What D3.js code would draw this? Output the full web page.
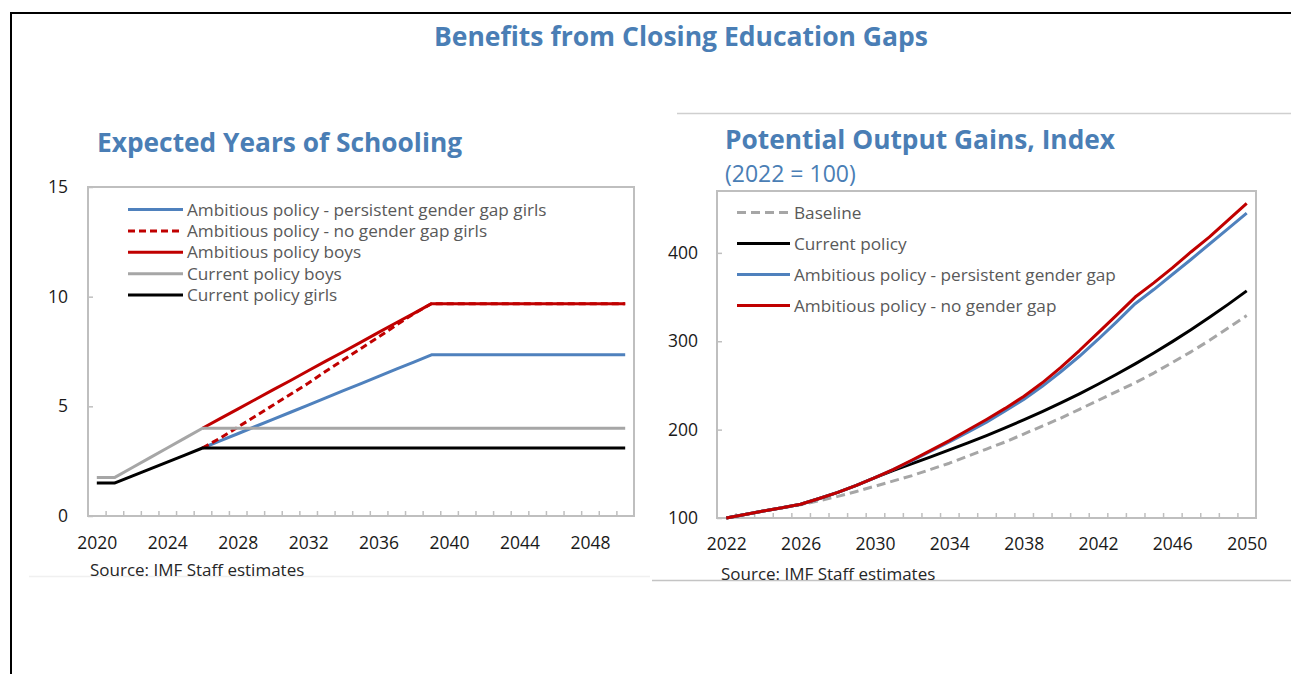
<!DOCTYPE html>
<html>
<head>
<meta charset="utf-8">
<script src="https://cdn.jsdelivr.net/npm/d3@7"></script>
<style>
body { margin: 0; background: #fff; }
text { font-family: "Open Sans", sans-serif; }
</style>
</head>
<body>
<div id="chart"></div>
<script>
// Left panel: expected years of schooling, 2020-2050
var schoolYears = d3.range(2020, 2051);
var schoolTicks = [2020, 2024, 2028, 2032, 2036, 2040, 2044, 2048];
var ambitiousGapGirls = [null, null, null, null, null, null, 3.1, 3.43, 3.75, 4.08, 4.41, 4.73, 5.06, 5.39, 5.72, 6.04, 6.37, 6.7, 7.02, 7.35,
	7.35, 7.35, 7.35, 7.35, 7.35, 7.35, 7.35, 7.35, 7.35, 7.35, 7.35];
var ambitiousNoGapGirls = [null, null, null, null, null, null, 3.1, 3.55, 4.05, 4.55, 5.05, 5.55, 6.05, 6.6, 7.12, 7.64, 8.16, 8.7, 9.22, 9.68,
	9.68, 9.68, 9.68, 9.68, 9.68, 9.68, 9.68, 9.68, 9.68, 9.68, 9.68];
var ambitiousBoys = [null, null, null, null, null, null, 4.0, 4.44, 4.87, 5.31, 5.75, 6.18, 6.62, 7.06, 7.49, 7.93, 8.37, 8.81, 9.24, 9.68,
	9.68, 9.68, 9.68, 9.68, 9.68, 9.68, 9.68, 9.68, 9.68, 9.68, 9.68];
var currentBoys = [1.75, 1.75, 2.2, 2.65, 3.1, 3.55, 4.0, 4.0, 4.0, 4.0, 4.0, 4.0, 4.0, 4.0, 4.0, 4.0, 4.0, 4.0, 4.0, 4.0,
	4.0, 4.0, 4.0, 4.0, 4.0, 4.0, 4.0, 4.0, 4.0, 4.0, 4.0];
var currentGirls = [1.5, 1.5, 1.82, 2.14, 2.46, 2.78, 3.1, 3.1, 3.1, 3.1, 3.1, 3.1, 3.1, 3.1, 3.1, 3.1, 3.1, 3.1, 3.1, 3.1,
	3.1, 3.1, 3.1, 3.1, 3.1, 3.1, 3.1, 3.1, 3.1, 3.1, 3.1];
var schoolYTicks = [0, 5, 10, 15];

// Right panel: potential output index (2022 = 100)
var outputYears = d3.range(2022, 2051);
var outputTicks = [2022, 2026, 2030, 2034, 2038, 2042, 2046, 2050];
var baseline = [100, 104, 108, 111.5, 115, 119.5, 124.5, 130, 136, 142, 148, 155, 162, 170, 178, 186, 195, 204, 213, 223,
	233, 243, 253, 264, 276, 288, 301, 315, 329];
var currentPolicy = [100, 104, 108, 111.5, 115.5, 122, 129, 137, 145.6, 154, 161.6, 169.2, 177, 185, 193.3, 202, 211, 220.4, 230.2, 240.5,
	251.3, 262.6, 274.4, 286.7, 299.6, 313.1, 327.1, 341.7, 357];
var ambitiousGap = [100, 104, 108, 111.5, 115.5, 122, 129, 137, 145.6, 155, 165, 175.5, 186, 197, 208.5, 221, 234, 249, 265.5, 283,
	302, 322, 342.5, 358.5, 375.5, 392.5, 410, 427.5, 445];
var ambitiousNoGap = [100, 104, 108, 111.5, 115.5, 122, 129, 137, 145.6, 155, 165.6, 176.5, 187.5, 199.5, 211.5, 224, 237.5, 253, 270.5, 289.5,
	309.5, 329.5, 350, 366, 383, 401, 418, 437, 456];
var outputYTicks = [100, 200, 300, 400];

const titleBlue = '#4A7EB5';
const lineBlue = '#4F81BD';
const red = '#C00000';
const grey = '#A6A6A6';
const boxGrey = '#BFBFBF';
const legendText = '#595959';

const svg = d3.select('#chart').append('svg')
	.attr('width', 1291)
	.attr('height', 674);

// outer frame (top and left only)
svg.append('path')
	.attr('d', 'M11,674 V13 H1291')
	.attr('fill', 'none')
	.attr('stroke', '#000')
	.attr('stroke-width', 2);

svg.append('text')
	.attr('x', 681)
	.attr('y', 46)
	.attr('text-anchor', 'middle')
	.attr('font-weight', 'bold')
	.attr('font-size', 26.5)
	.attr('fill', titleBlue)
	.text('Benefits from Closing Education Gaps');

// faint panel separators
svg.append('line').attr('x1', 677).attr('x2', 1291).attr('y1', 113.5).attr('y2', 113.5)
	.attr('stroke', '#cfcfcf').attr('stroke-width', 1.5);
svg.append('line').attr('x1', 29).attr('x2', 650).attr('y1', 576.5).attr('y2', 576.5)
	.attr('stroke', '#f0f0f0').attr('stroke-width', 1.5);
svg.append('line').attr('x1', 652).attr('x2', 1291).attr('y1', 580.5).attr('y2', 580.5)
	.attr('stroke', '#c4c4c4').attr('stroke-width', 1.5);

function drawPanel(p)
{
	var g = svg.append('g');
	var x = d3.scaleLinear().domain([p.years[0] - 0.5, p.years[p.years.length - 1] + 0.5]).range([p.left, p.right]);
	var y = d3.scaleLinear().domain(p.yDomain).range([p.bottom, p.top]);

	g.append('rect')
		.attr('x', p.left).attr('y', p.top)
		.attr('width', p.right - p.left).attr('height', p.bottom - p.top)
		.attr('fill', 'none').attr('stroke', boxGrey).attr('stroke-width', 2);

	// minor ticks between categories, pointing inward
	var minor = g.append('g')
		.attr('transform', 'translate(0,' + p.bottom + ')')
		.call(d3.axisBottom(x).tickValues(p.years.slice(0, -1).map(d => d + 0.5)).tickSize(-5).tickFormat(''));
	minor.select('.domain').remove();
	minor.selectAll('line').attr('stroke', boxGrey).attr('stroke-width', 1.5);

	var xAxis = g.append('g')
		.attr('transform', 'translate(0,' + p.bottom + ')')
		.call(d3.axisBottom(x).tickValues(p.xTicks).tickSize(0).tickPadding(p.xPad).tickFormat(d3.format('d')));
	xAxis.select('.domain').remove();
	xAxis.selectAll('text').attr('font-size', 17.5).attr('fill', '#1a1a1a').style('font-family', '"Open Sans", sans-serif');

	var yAxis = g.append('g')
		.attr('transform', 'translate(' + p.left + ',0)')
		.call(d3.axisLeft(y).tickValues(p.yTicks).tickSize(-5).tickPadding(p.yPad));
	yAxis.select('.domain').remove();
	yAxis.selectAll('line').attr('stroke', boxGrey).attr('stroke-width', 1.5);
	yAxis.selectAll('text').attr('font-size', 17.5).attr('fill', '#1a1a1a').style('font-family', '"Open Sans", sans-serif');

	p.series.forEach(function(s) {
		var line = d3.line()
			.defined(d => d[1] != null)
			.x(d => x(d[0]))
			.y(d => y(d[1]));
		g.append('path')
			.datum(p.years.map((yr, i) => [yr, s.values[i]]))
			.attr('d', line)
			.attr('fill', 'none')
			.attr('stroke', s.color)
			.attr('stroke-width', 3)
			.attr('stroke-dasharray', s.dash || null)
			.attr('stroke-linejoin', 'round');
	});

	// legend, drawn in listed order
	p.legend.forEach(function(s, i) {
		var ly = p.legendY + i * p.legendStep;
		g.append('line')
			.attr('x1', p.legendX).attr('x2', p.legendX + p.legendLen)
			.attr('y1', ly).attr('y2', ly)
			.attr('stroke', s.color).attr('stroke-width', 3)
			.attr('stroke-dasharray', s.dash || null);
		g.append('text')
			.attr('x', p.legendX + p.legendLen + 4)
			.attr('y', ly)
			.attr('dy', '0.35em')
			.attr('font-size', 17.2)
			.attr('fill', legendText)
			.text(s.name);
	});

	g.append('text')
		.attr('x', p.titleX).attr('y', p.titleY)
		.attr('font-weight', 'bold').attr('font-size', 26.3)
		.attr('fill', titleBlue)
		.text(p.title);

	if (p.subtitle) {
		g.append('text')
			.attr('x', p.titleX).attr('y', p.titleY + 33)
			.attr('font-size', 23)
			.attr('fill', titleBlue)
			.text(p.subtitle);
	}

	g.append('text')
		.attr('x', p.sourceX).attr('y', p.sourceY)
		.attr('font-size', 17)
		.attr('fill', '#262626')
		.text('Source: IMF Staff estimates');
}

var schoolSeries = [
	{name: 'Ambitious policy - persistent gender gap girls', values: ambitiousGapGirls, color: lineBlue},
	{name: 'Ambitious policy - no gender gap girls', values: ambitiousNoGapGirls, color: red, dash: '7,4'},
	{name: 'Ambitious policy boys', values: ambitiousBoys, color: red},
	{name: 'Current policy boys', values: currentBoys, color: grey},
	{name: 'Current policy girls', values: currentGirls, color: '#000'}
];

drawPanel({
	years: schoolYears, xTicks: schoolTicks, yTicks: schoolYTicks, yDomain: [0, 15],
	left: 88, right: 634, top: 187, bottom: 516, xPad: 21, yPad: 20,
	series: schoolSeries, legend: schoolSeries,
	legendX: 128, legendY: 209.5, legendStep: 21.4, legendLen: 55,
	title: 'Expected Years of Schooling', titleX: 97, titleY: 152,
	sourceX: 90, sourceY: 576
});

var outputSeries = [
	{name: 'Baseline', values: baseline, color: grey, dash: '9,5'},
	{name: 'Current policy', values: currentPolicy, color: '#000'},
	{name: 'Ambitious policy - persistent gender gap', values: ambitiousGap, color: lineBlue},
	{name: 'Ambitious policy - no gender gap', values: ambitiousNoGap, color: red}
];

drawPanel({
	years: outputYears, xTicks: outputTicks, yTicks: outputYTicks, yDomain: [100, 470],
	left: 717, right: 1256, top: 191, bottom: 518, xPad: 20, yPad: 19,
	series: outputSeries, legend: outputSeries,
	legendX: 737, legendY: 212.5, legendStep: 31, legendLen: 53,
	title: 'Potential Output Gains, Index', titleX: 725, titleY: 149,
	subtitle: '(2022 = 100)',
	sourceX: 721, sourceY: 580
});
</script>
</body>
</html>
